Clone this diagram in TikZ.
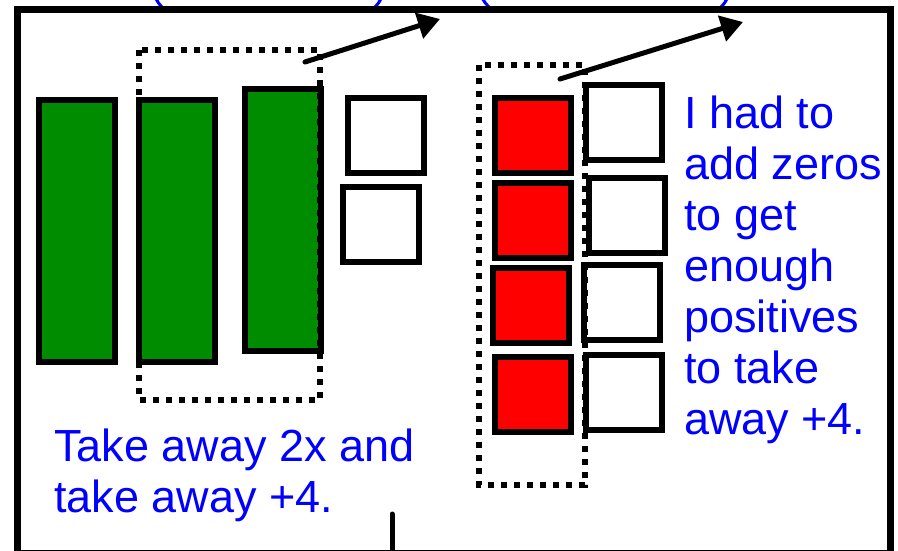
\documentclass[tikz,border=0pt]{standalone}
\usepackage{fontspec}
\setmainfont{Liberation Sans}
\usetikzlibrary{arrows.meta}

\definecolor{tilegreen}{RGB}{0,140,0}

\begin{document}
\begin{tikzpicture}[x=1pt, y=-1pt,
  tile/.style={draw=black, line width=6pt, minimum width=76pt, minimum height=75pt, inner sep=0pt},
  bar/.style={tile, fill=tilegreen, minimum height=262pt},
  minustile/.style={tile, fill=red},
  plustile/.style={tile, fill=white},
  group/.style={draw=black, line width=6pt, dash pattern=on 6pt off 7pt},
  move/.style={line width=5pt, line cap=round, -{Triangle[length=22pt,width=26pt]}},
  paren/.style={draw=blue, line width=3pt},
  words/.style={text=blue, font=\fontsize{45}{51}\selectfont, align=left, inner sep=0pt, anchor=north west}]

\useasboundingbox (0,0) rectangle (898,550);
\clip (0,0) rectangle (898,550);

% bottoms of the brackets above the frame
\draw[paren] (155,-4) .. controls (158,3) .. (165,10);
\draw[paren] (382,-4) .. controls (379,3) .. (372,10);
\draw[paren] (481,-4) .. controls (485,3) .. (492,10);
\draw[paren] (728,-4) .. controls (725,3) .. (718,10);

% frame
\draw[line width=7pt] (17,9) rectangle (890,553);
\draw[line width=5pt, line cap=round] (392,514) -- (392,560);

% 2x + 4 side
\node[bar] (g1) at (77,231) {};
\node[bar] (g2) at (177,231) {};
\node[bar] (g3) at (282.5,220) {};
\node[plustile] (w1) at (385.5,135.5) {};
\node[plustile] (w2) at (381,224) {};

% -4 side with zero pairs
\node[minustile] (r1) at (533,135.5) {};
\node[minustile] (r2) at (533,220) {};
\node[minustile] (r3) at (530.5,305) {};
\node[minustile] (r4) at (533,394) {};
\node[plustile] (z1) at (624,122) {};
\node[plustile] (z2) at (626.5,215.5) {};
\node[plustile] (z3) at (622,302.5) {};
\node[plustile] (z4) at (624,392) {};

% what gets taken away
\draw[group] (139,50) rectangle (320,400);
\draw[group] (479,65) rectangle (585,485);

\coordinate (outL) at (305,62);
\coordinate (toL) at (440,19);
\coordinate (outR) at (560,79);
\coordinate (toR) at (743,22);
\draw[move] (outL) -- (toL);
\draw[move] (outR) -- (toR);

\node[words] (noteL) at (54,429) {Take away 2x and\\take away +4.};
\node[words] (noteR) at (684,96) {I had to\\add zeros\\to get\\enough\\positives\\to take\\away +4.};

\end{tikzpicture}
\end{document}
